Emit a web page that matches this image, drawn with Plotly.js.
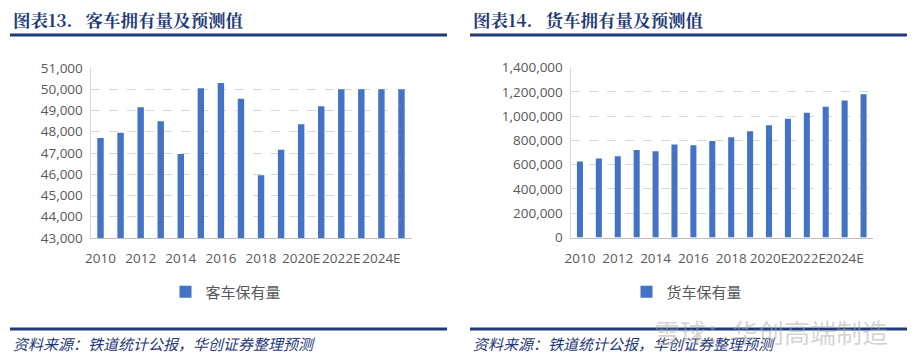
<!DOCTYPE html>
<html><head><meta charset="utf-8">
<script src="https://cdn.plot.ly/plotly-3.0.1.min.js"></script>
<style>html,body{margin:0;padding:0;background:#fff}#chart{width:915px;height:362px}</style>
</head><body><div id="chart"></div>
<script>
const years = ["2010","2011","2012","2013","2014","2015","2016","2017","2018","2019","2020E","2021E","2022E","2023E","2024E","2025E"];
const passengerCars = [47700,47950,49150,48500,46950,50050,50300,49550,45950,47150,48350,49200,50000,50000,50000,50000];
const freightCars = [625000,650000,670000,720000,710000,765000,760000,795000,825000,876000,925000,977000,1027000,1076000,1128000,1180000];
const xTickLabels = years.filter((_, i) => i % 2 === 0);
const leftTitle = "图表13.&nbsp;&nbsp;&nbsp;客车拥有量及预测值";
const rightTitle = "图表14.&nbsp;&nbsp;&nbsp;货车拥有量及预测值";
const leftSeries = "客车保有量";
const rightSeries = "货车保有量";
const sourceText = "资料来源：铁道统计公报，华创证券整理预测";
const watermark = "雪球：华创高端制造";

const W = 915, H = 362;
const px = v => v / W, py = v => 1 - v / H;
const navy = "#1F3A7A";
const barColor = "#4472C4";
const tickFont = {family: "Open Sans, Noto Sans, sans-serif", size: 13.5, color: "#595959"};

const traces = [
  {type: "bar", x: years, y: passengerCars, name: leftSeries, marker: {color: barColor}, xaxis: "x", yaxis: "y", legend: "legend"},
  {type: "bar", x: years, y: freightCars, name: rightSeries, marker: {color: barColor}, xaxis: "x2", yaxis: "y2", legend: "legend2"}
];

const xCommon = {type: "category", tickvals: xTickLabels, ticktext: xTickLabels, tickfont: tickFont, showgrid: false,
  showline: true, linecolor: "#BFBFBF", linewidth: 1, ticks: "", fixedrange: true, tickangle: 0, ticklabelstandoff: 8};
const yCommon = {tickfont: tickFont, showgrid: true, gridcolor: "#D9D9D9", griddash: "dash", gridwidth: 1,
  showline: true, linecolor: "#D9D9D9", zeroline: false, ticks: "", tickformat: ",d", separatethousands: true, fixedrange: true, ticklabelstandoff: 4};

const legendFont = {family: "Noto Sans CJK SC, sans-serif", size: 15, color: "#595959"};

const layout = {
  width: W, height: H, margin: {l: 0, r: 0, t: 0, b: 0},
  paper_bgcolor: "#fff", plot_bgcolor: "#fff", bargap: 0.68, showlegend: true,
  xaxis: Object.assign({}, xCommon, {domain: [px(90.5), px(411.5)], anchor: "y"}),
  yaxis: Object.assign({}, yCommon, {domain: [py(238), py(68)], range: [43000, 51000], dtick: 1000, anchor: "x"}),
  xaxis2: Object.assign({}, xCommon, {domain: [px(570.5), px(873)], anchor: "y2"}),
  yaxis2: Object.assign({}, yCommon, {domain: [py(237.5), py(67.5)], range: [0, 1400000], dtick: 200000, anchor: "x2"}),
  legend: {x: px(226), y: py(292), xanchor: "center", yanchor: "middle", orientation: "h", itemwidth: 30,
    font: legendFont, bgcolor: "rgba(0,0,0,0)"},
  legend2: {x: px(687), y: py(292), xanchor: "center", yanchor: "middle", orientation: "h", itemwidth: 30,
    font: legendFont, bgcolor: "rgba(0,0,0,0)"},
  shapes: [
    {type: "line", xref: "paper", yref: "paper", x0: px(10), x1: px(447), y0: py(35), y1: py(35), line: {color: navy, width: 3}},
    {type: "line", xref: "paper", yref: "paper", x0: px(470), x1: px(907), y0: py(35), y1: py(35), line: {color: navy, width: 3}},
    {type: "line", xref: "paper", yref: "paper", x0: px(10), x1: px(447), y0: py(329), y1: py(329), line: {color: navy, width: 3}},
    {type: "line", xref: "paper", yref: "paper", x0: px(470), x1: px(907), y0: py(329), y1: py(329), line: {color: navy, width: 3}}
  ],
  annotations: [
    {text: "<b>" + leftTitle + "</b>", xref: "paper", yref: "paper", x: px(11), y: py(20), xanchor: "left", yanchor: "middle", showarrow: false,
      font: {family: "Noto Serif CJK SC, Noto Sans CJK SC, serif", size: 17.5, color: navy}},
    {text: "<b>" + rightTitle + "</b>", xref: "paper", yref: "paper", x: px(471), y: py(20), xanchor: "left", yanchor: "middle", showarrow: false,
      font: {family: "Noto Serif CJK SC, Noto Sans CJK SC, serif", size: 17.5, color: navy}},
    {text: "<i>" + sourceText + "</i>", xref: "paper", yref: "paper", x: px(11), y: py(343), xanchor: "left", yanchor: "middle", showarrow: false,
      font: {family: "Noto Sans CJK SC, sans-serif", size: 15, color: navy}},
    {text: "<i>" + sourceText + "</i>", xref: "paper", yref: "paper", x: px(471), y: py(343), xanchor: "left", yanchor: "middle", showarrow: false,
      font: {family: "Noto Sans CJK SC, sans-serif", size: 15, color: navy}},
    {text: watermark, xref: "paper", yref: "paper", x: px(652), y: py(331), xanchor: "left", yanchor: "middle", showarrow: false,
      font: {family: "Noto Sans CJK SC, sans-serif", size: 26, color: "rgba(170,170,170,0.5)"}}
  ]
};
Plotly.newPlot("chart", traces, layout, {staticPlot: true, displayModeBar: false});
</script></body></html>
